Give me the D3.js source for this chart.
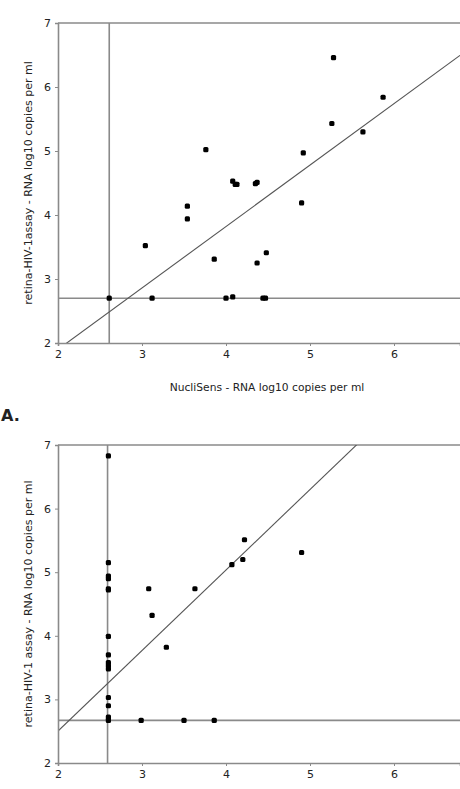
<!DOCTYPE html>
<html><head><meta charset="utf-8">
<script src="https://cdn.jsdelivr.net/npm/d3@7/dist/d3.min.js"></script>
<style>body{margin:0;background:#fff}svg{display:block}text{font-family:"DejaVu Sans",Verdana,sans-serif;fill:#222}</style>
</head><body>
<script>
// ---- data ----
const xTicks = [2, 3, 4, 5, 6];
const yTicks = [2, 3, 4, 5, 6, 7];
// Panel 1 (top)
const topX = [5.28, 5.87, 5.26, 5.63, 3.76, 4.92, 4.08, 4.11, 4.13, 4.35, 4.37, 3.54, 3.54, 4.90, 3.04, 3.86, 4.48, 4.37, 2.61, 3.12, 4.00, 4.08, 4.44, 4.47];
const topY = [6.46, 5.84, 5.43, 5.30, 5.02, 4.97, 4.53, 4.48, 4.48, 4.49, 4.51, 4.14, 3.94, 4.19, 3.52, 3.31, 3.41, 3.25, 2.70, 2.70, 2.70, 2.72, 2.70, 2.70];
const topCutX = 2.61, topCutY = 2.70;
const topFit = [0.96, -0.02]; // slope, intercept
// Panel 2 (bottom, "A.")
const botX = [2.6, 2.6, 2.6, 2.6, 2.6, 2.6, 2.6, 2.6, 2.6, 2.6, 2.6, 2.6, 2.6, 2.6, 2.6, 4.22, 4.20, 4.07, 3.08, 3.63, 4.90, 3.12, 3.29, 2.99, 3.50, 3.86];
const botY = [6.83, 5.15, 4.94, 4.90, 4.74, 4.72, 3.99, 3.70, 3.58, 3.53, 3.48, 3.03, 2.90, 2.72, 2.67, 5.51, 5.20, 5.12, 4.74, 4.74, 5.31, 4.32, 3.82, 2.67, 2.67, 2.67];
const botCutX = 2.59, botCutY = 2.67;
const botFit = [1.266, -0.03];
const xTitle = "NucliSens - RNA log10 copies per ml";
const yTitleTop = "retina-HIV-1assay - RNA log10 copies per ml";
const yTitleBot = "retina-HIV-1 assay - RNA log10 copies per ml";

const W = 460, H = 789;
const svg = d3.select("body").append("svg").attr("width", W).attr("height", H);

function panel(id, xs, ys, cutX, cutY, fit, top, bottom, yTitle, xT) {
  const x = d3.scaleLinear().domain([2, 2 + (W - 58) / 84]).range([58, W]);
  const y = d3.scaleLinear().domain([2, 7]).range([bottom, top]);
  const g = svg.append("g");
  g.append("clipPath").attr("id", id).append("rect")
    .attr("x", x.range()[0]).attr("y", top).attr("width", x.range()[1] - x.range()[0]).attr("height", bottom - top);
  const gray = "#8a8a8a";
  g.append("line").attr("x1", x.range()[0]).attr("x2", W).attr("y1", y(7)).attr("y2", y(7))
    .attr("stroke", gray).attr("stroke-width", 1.6);
  g.append("line").attr("x1", x(cutX)).attr("x2", x(cutX)).attr("y1", top).attr("y2", bottom)
    .attr("stroke", gray).attr("stroke-width", 1.6);
  g.append("line").attr("x1", x.range()[0]).attr("x2", W).attr("y1", y(cutY)).attr("y2", y(cutY))
    .attr("stroke", gray).attr("stroke-width", 1.6);
  const xd = x.domain();
  g.append("line").attr("clip-path", `url(#${id})`)
    .attr("x1", x(xd[0])).attr("y1", y(fit[0] * xd[0] + fit[1]))
    .attr("x2", x(xd[1])).attr("y2", y(fit[0] * xd[1] + fit[1]))
    .attr("stroke", "#555").attr("stroke-width", 1.1);
  const ax = g.append("g").attr("transform", `translate(0,${bottom})`)
    .call(d3.axisBottom(x).tickValues(xTicks).tickSize(3).tickPadding(4).tickFormat(d3.format("d")));
  const ay = g.append("g").attr("transform", `translate(${x.range()[0]},0)`)
    .call(d3.axisLeft(y).tickValues(yTicks).tickSize(3).tickPadding(4).tickFormat(d3.format("d")));
  [ax, ay].forEach(a => {
    a.select(".domain").attr("stroke", gray).attr("stroke-width", 1.6);
    a.selectAll(".tick line").attr("stroke", gray);
    a.selectAll(".tick text").attr("font-size", 11).attr("fill", "#222")
      .attr("font-family", '"DejaVu Sans",Verdana,sans-serif');
  });
  g.selectAll("rect.pt").data(xs.map((v, i) => [v, ys[i]])).enter().append("rect")
    .attr("class", "pt")
    .attr("x", d => x(d[0]) - 2.6).attr("y", d => y(d[1]) - 2.6)
    .attr("width", 5.2).attr("height", 5.2).attr("rx", 1.5).attr("fill", "#000");
  g.append("text").attr("transform", `translate(32,${(top + bottom) / 2}) rotate(-90)`)
    .attr("text-anchor", "middle").attr("font-size", 11).attr("fill", "#333").text(yTitle);
  if (xT) {
    g.append("text").attr("x", 267).attr("y", bottom + 48).attr("text-anchor", "middle")
      .attr("font-size", 10.7).attr("fill", "#333").text(xT);
  }
}

panel("c1", topX, topY, topCutX, topCutY, topFit, 23, 343, yTitleTop, xTitle);
panel("c2", botX, botY, botCutX, botCutY, botFit, 445, 763, yTitleBot, null);

svg.append("text").attr("x", 1).attr("y", 421).attr("font-size", 16).attr("font-weight", "bold")
  .attr("fill", "#111").text("A.");
</script>
</body></html>
